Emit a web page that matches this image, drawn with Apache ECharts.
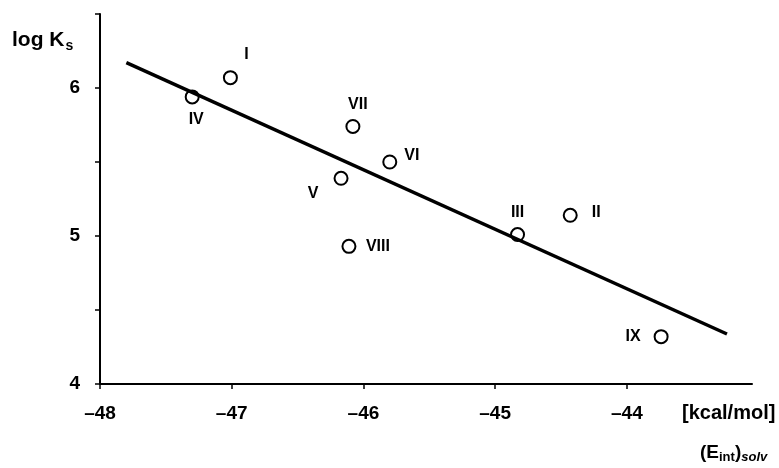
<!DOCTYPE html>
<html>
<head>
<meta charset="utf-8">
<script src="https://cdn.jsdelivr.net/npm/echarts@6/dist/echarts.min.js"></script>
<style>html,body{margin:0;padding:0;background:#fff}#c{width:779px;height:468px}</style>
</head>
<body>
<div id="c"></div>
<script>
// Data
var compounds = ['IV', 'I', 'VII', 'VI', 'V', 'VIII', 'III', 'II', 'IX'];
var eintSolv = [-47.30, -47.01, -46.08, -45.80, -46.17, -46.11, -44.83, -44.43, -43.74];
var logKs = [5.94, 6.07, 5.74, 5.50, 5.39, 4.93, 5.01, 5.14, 4.32];
var fitX = [-47.80, -43.24];
var fitY = [6.171, 4.338];
var xTicks = [-48, -47, -46, -45, -44];
var yTicks = [4, 5, 6];

// label placement (style only)
var labelOffsets = {
  'IV': [4, 23], 'I': [16, -23], 'VII': [5, -22], 'VI': [22, -6], 'V': [-28, 15],
  'VIII': [29, 0], 'III': [0, -22], 'II': [26, -3], 'IX': [-28, 0]
};

var FONT = '"Liberation Sans", Arial, sans-serif';
var chart = echarts.init(document.getElementById('c'), null, {renderer: 'canvas'});

var pts = compounds.map(function (n, i) {
  return {
    value: [eintSolv[i], logKs[i]],
    name: n,
    label: {
      show: true, formatter: n, position: 'inside', offset: labelOffsets[n],
      color: '#000', opacity: 1, textBorderWidth: 0, fontFamily: FONT, fontWeight: 'bold', fontSize: 16
    }
  };
});

chart.setOption({
  animation: false,
  backgroundColor: '#fff',
  grid: {left: 100, right: 27, top: 14, bottom: 84, containLabel: false},
  xAxis: {
    type: 'value', min: -48, max: -43.05, interval: 1,
    axisLine: {show: true, lineStyle: {color: '#000', width: 2}},
    axisTick: {show: true, length: 5, lineStyle: {color: '#000', width: 1.5}},
    splitLine: {show: false},
    axisLabel: {
      color: '#000', fontFamily: FONT, fontWeight: 'bold', fontSize: 19, margin: 20,
      showMaxLabel: false,
      formatter: function (v) { return xTicks.indexOf(v) >= 0 ? '\u2013' + Math.abs(v) : ''; }
    }
  },
  yAxis: {
    type: 'value', min: 4, max: 6.5, interval: 0.5,
    axisLine: {show: true, lineStyle: {color: '#000', width: 2}},
    axisTick: {show: true, length: 5, lineStyle: {color: '#000', width: 1.5}},
    splitLine: {show: false},
    axisLabel: {
      color: '#000', fontFamily: FONT, fontWeight: 'bold', fontSize: 19, margin: 20,
      formatter: function (v) { return yTicks.indexOf(v) >= 0 ? String(v) : ''; }
    }
  },
  series: [
    {
      type: 'scatter',
      data: pts,
      symbol: 'circle',
      symbolSize: 13,
      itemStyle: {color: '#fff', opacity: 1, borderColor: '#000', borderWidth: 2},
      z: 2
    },
    {
      type: 'line',
      data: fitX.map(function (x, i) { return [x, fitY[i]]; }),
      symbol: 'none',
      lineStyle: {color: '#000', width: 3.5},
      z: 3
    }
  ],
  graphic: [
    {
      type: 'text', left: 12, top: 30,
      style: {
        text: '{a|log K}{s|s}',
        rich: {
          a: {fontFamily: FONT, fontWeight: 'bold', fontSize: 21, fill: '#000'},
          s: {fontFamily: FONT, fontWeight: 'bold', fontSize: 14, fill: '#000', padding: [11, 0, 0, 1]}
        }
      }
    },
    {
      type: 'text', left: 682, top: 403,
      style: {text: '[kcal/mol]', fontFamily: FONT, fontWeight: 'bold', fontSize: 20, fill: '#000'}
    },
    {
      type: 'text', left: 700, top: 443,
      style: {
        text: '{a|(E}{b|int}{a|)}{c|solv}',
        rich: {
          a: {fontFamily: FONT, fontWeight: 'bold', fontSize: 19, fill: '#000'},
          b: {fontFamily: FONT, fontWeight: 'bold', fontSize: 13, fill: '#000', padding: [9, 0, 0, 0]},
          c: {fontFamily: FONT, fontWeight: 'bold', fontStyle: 'italic', fontSize: 13, fill: '#000', padding: [9, 0, 0, 0]}
        }
      }
    }
  ]
});
</script>
</body>
</html>
